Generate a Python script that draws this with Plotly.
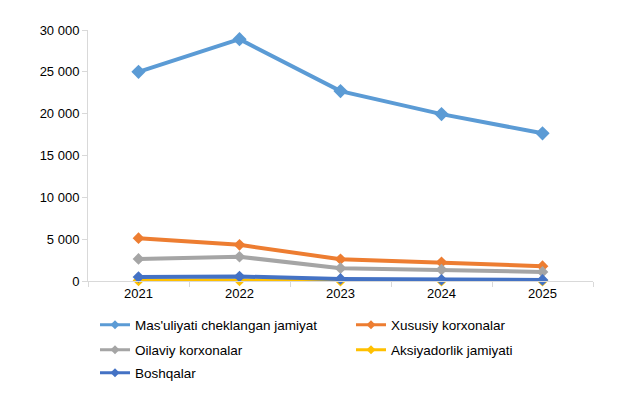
import plotly.graph_objects as go

years = ["2021", "2022", "2023", "2024", "2025"]

mas_uliyati = [25000, 28900, 22700, 19950, 17650]
xususiy = [5120, 4320, 2600, 2230, 1770]
oilaviy = [2640, 2900, 1530, 1360, 1080]
aksiyadorlik = [60, 60, 40, 30, 30]
boshqalar = [470, 540, 250, 150, 130]

names = ["Mas'uliyati cheklangan jamiyat", "Xususiy korxonalar",
         "Oilaviy korxonalar", "Aksiyadorlik jamiyati", "Boshqalar"]
values = [mas_uliyati, xususiy, oilaviy, aksiyadorlik, boshqalar]
colors = ["#5B9BD5", "#ED7D31", "#A5A5A5", "#FFC000", "#4472C4"]
msizes = [11, 9, 9, 9, 9]

W, H = 629, 404

# one small legend per series so the 2-column grid sits where the original has it
# (x of legend box, y of row centre) in figure pixels
leg_pos = [(87, 317), (343, 317), (87, 342), (343, 342), (87, 365)]

fig = go.Figure()
legends = {}
for i in range(len(names)):
    key = "legend" if i == 0 else "legend%d" % (i + 1)
    fig.add_trace(go.Scatter(
        x=years, y=values[i], name=names[i], mode="lines+markers",
        line=dict(color=colors[i], width=4),
        marker=dict(symbol="diamond", size=msizes[i], color=colors[i]),
        cliponaxis=False, showlegend=False, legendgroup=names[i],
    ))
    # legend-only entry with a slimmer sample, like the original key
    fig.add_trace(go.Scatter(
        x=[None], y=[None], name=names[i], mode="lines+markers",
        line=dict(color=colors[i], width=3),
        marker=dict(symbol="diamond", size=7, color=colors[i]),
        legend=key, legendgroup=names[i],
    ))
    lx, ly = leg_pos[i]
    legends[key] = dict(
        orientation="h", xref="container", yref="container",
        x=lx / W, y=1 - ly / H, xanchor="left", yanchor="middle",
        font=dict(size=13.5), itemwidth=30, bgcolor="rgba(0,0,0,0)",
    )

fig.update_layout(
    width=W, height=H,
    margin=dict(l=80, r=44, t=22, b=131, autoexpand=False),
    paper_bgcolor="white", plot_bgcolor="white",
    font=dict(family="Liberation Sans, Arial", size=12, color="#000000"),
    separators=". ",
    showlegend=True,
    **legends,
)
fig.update_xaxes(
    type="category", range=[-0.5, 4.5], showgrid=False, showline=True,
    linecolor="#D9D9D9", ticks="outside", tickson="boundaries", ticklen=5,
    tickcolor="#D9D9D9", tickfont=dict(size=13),
)
fig.update_yaxes(
    range=[0, 30000], dtick=5000, tickformat=",d", showgrid=False,
    showline=True, linecolor="#D9D9D9", ticks="outside", ticklen=5,
    tickcolor="#D9D9D9", zeroline=False, tickfont=dict(size=13),
)

fig.write_html("out.html")
